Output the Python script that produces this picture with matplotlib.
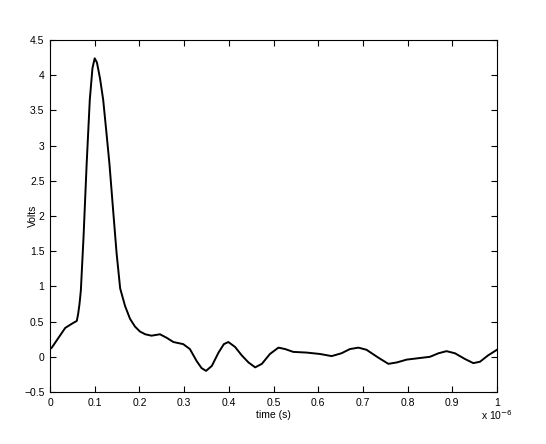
import matplotlib
matplotlib.use("Agg")
import matplotlib.pyplot as plt

plt.rcParams['font.family'] = ['Liberation Sans', 'DejaVu Sans']

# time in units of 1e-6 s
time_us = [0.000, 0.004, 0.019, 0.034, 0.049, 0.060, 0.063, 0.066, 0.069, 0.075,
           0.082, 0.089, 0.095, 0.100, 0.105, 0.112, 0.119, 0.126, 0.133, 0.141,
           0.149, 0.157, 0.168, 0.179, 0.190, 0.201, 0.213, 0.227, 0.246, 0.261,
           0.276, 0.298, 0.313, 0.328, 0.339, 0.349, 0.362, 0.377, 0.389, 0.399,
           0.414, 0.429, 0.444, 0.459, 0.474, 0.492, 0.511, 0.526, 0.544, 0.574,
           0.604, 0.630, 0.652, 0.671, 0.690, 0.708, 0.734, 0.757, 0.776, 0.798,
           0.824, 0.850, 0.869, 0.887, 0.906, 0.928, 0.947, 0.962, 0.980, 1.000]
volts = [0.11, 0.13, 0.27, 0.41, 0.47, 0.51, 0.61, 0.75, 0.94, 1.70,
         2.74, 3.65, 4.10, 4.24, 4.18, 3.95, 3.65, 3.20, 2.74, 2.10,
         1.47, 0.97, 0.72, 0.54, 0.43, 0.36, 0.32, 0.30, 0.32, 0.27,
         0.21, 0.18, 0.11, -0.06, -0.16, -0.20, -0.13, 0.06, 0.18, 0.21,
         0.14, 0.02, -0.08, -0.15, -0.10, 0.04, 0.13, 0.11, 0.07, 0.06,
         0.04, 0.01, 0.05, 0.11, 0.13, 0.10, -0.01, -0.10, -0.08, -0.04,
         -0.02, 0.00, 0.05, 0.08, 0.05, -0.03, -0.09, -0.07, 0.02, 0.10]

xticks = [0, 0.1, 0.2, 0.3, 0.4, 0.5, 0.6, 0.7, 0.8, 0.9, 1]
xticklabels = ['0', '0.1', '0.2', '0.3', '0.4', '0.5', '0.6', '0.7', '0.8', '0.9', '1']
yticks = [-0.5, 0, 0.5, 1, 1.5, 2, 2.5, 3, 3.5, 4, 4.5]
yticklabels = ['\u22120.5', '0', '0.5', '1', '1.5', '2', '2.5', '3', '3.5', '4', '4.5']

fig = plt.figure(figsize=(5.46, 4.44), dpi=100)
ax = fig.add_axes([50/546, 1 - 392/444, 447/546, 352/444])
ax.plot(time_us, volts, color='black', lw=1.4, solid_joinstyle='round')
ax.set_xlim(0, 1)
ax.set_ylim(-0.5, 4.5)
ax.set_xticks(xticks)
ax.set_xticklabels(xticklabels)
ax.set_yticks(yticks)
ax.set_yticklabels(yticklabels)
ax.tick_params(direction='in', top=True, right=True, labelsize=7.5, length=4, width=0.8, pad=4)
for s in ax.spines.values():
    s.set_linewidth(0.8)
ax.set_xlabel('time (s)', fontsize=7.5, labelpad=2)
ax.set_ylabel('Volts', fontsize=7.5)
ax.yaxis.set_label_coords(-0.027, 0.5)
ax.text(1.0, -0.045, r'x 10$^{-6}$', transform=ax.transAxes, ha='center', va='top', fontsize=7.5)

fig.savefig('out.png', dpi=100)
